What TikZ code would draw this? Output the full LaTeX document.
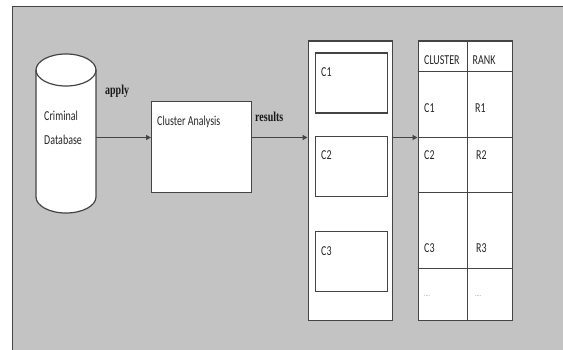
\documentclass[tikz,border=0pt]{standalone}
\usepackage{graphicx}
\usepackage{fontspec}
\setmainfont{Carlito}
\newfontfamily\labelfont{Liberation Serif}
\usetikzlibrary{arrows.meta,shapes.geometric}
\definecolor{panel}{HTML}{C3C3C3}
\definecolor{edge}{HTML}{444444}
% narrow, tall lettering
\newcommand{\tall}[1]{\scalebox{0.95}[1.3]{#1}}
\tikzset{
  box/.style={draw=edge, line width=1.2pt, fill=white},
  txt/.style={font=\fontsize{10.5}{12}\selectfont, text=black!85, inner sep=0pt, anchor=west},
  lbl/.style={font=\labelfont\bfseries\fontsize{10.5}{12}\selectfont, text=black!90, inner sep=0pt, anchor=west},
  flow/.style={draw=edge, line width=1.2pt, -{Triangle[length=5pt,width=5pt]}},
}
\begin{document}
\begin{tikzpicture}[x=1pt,y=-1pt]
\useasboundingbox (0,0) rectangle (563,350);
% page and grey panel
\fill[white] (0,0) rectangle (563,350);
\fill[panel] (12.5,6.5) rectangle (570,360);
\draw[edge, line width=1pt] (12.5,360) -- (12.5,6.5) -- (570,6.5);

% database cylinder (y axis points down, so arcs run through 90 to bulge downwards)
\path[box] (36,70) -- (36,197) arc[start angle=180, end angle=0, x radius=30, y radius=16]
  -- (96,70) arc[start angle=0, end angle=-180, x radius=30, y radius=16] -- cycle;
\draw[edge, line width=1.2pt] (36,70) arc[start angle=180, end angle=0, x radius=30, y radius=16];
\coordinate (dbout) at (96,137.5);
\node[txt] (crim) at (44,116) {\tall{Criminal}};
\node[txt] (dbname) at (44,140) {\tall{Database}};

% cluster analysis process
\node[box, minimum width=100pt, minimum height=91pt, inner sep=0pt, anchor=north west] (ca) at (151,101) {};
\node[txt] (catext) at (157,121.5) {\tall{Cluster Analysis}};

% clusters container
\node[box, minimum width=84pt, minimum height=279pt, inner sep=0pt, anchor=north west] (clusters) at (307.5,40.5) {};
\node[box, minimum width=71.5pt, minimum height=60pt, inner sep=0pt, anchor=north west] (c1) at (315,52.5) {};
\node[box, minimum width=71.5pt, minimum height=60pt, inner sep=0pt, anchor=north west] (c2) at (315,136) {};
\node[box, minimum width=71.5pt, minimum height=60pt, inner sep=0pt, anchor=north west] (c3) at (315,231) {};
\node[txt] (c1t) at (321,72) {\tall{C1}};
\node[txt] (c2t) at (321,155.5) {\tall{C2}};
\node[txt] (c3t) at (321,251) {\tall{C3}};

% ranking table
\node[box, minimum width=94.5pt, minimum height=279.5pt, inner sep=0pt, anchor=north west] (tbl) at (417.5,40.5) {};
\draw[edge, line width=1.2pt] (467.5,40.5) -- (467.5,320);
\foreach \yy in {71.5,137.5,192.5,268.5}
  \draw[edge, line width=1.2pt] (417.5,\yy) -- (512,\yy);
\node[txt] (hc) at (424,60.5) {\tall{CLUSTER}};
\node[txt] (hr) at (472.5,60.5) {\tall{RANK}};
\node[txt] (t1) at (424,108) {\tall{C1}};
\node[txt] (r1) at (475,108) {\tall{R1}};
\node[txt] (t2) at (424,155) {\tall{C2}};
\node[txt] (r2) at (476,155) {\tall{R2}};
\node[txt] (t3) at (424,248) {\tall{C3}};
\node[txt] (r3) at (476,248) {\tall{R3}};
\node[txt, font=\fontsize{6}{7}\selectfont, text=black!50] (t4) at (424,296) {....};
\node[txt, font=\fontsize{6}{7}\selectfont, text=black!50] (r4) at (475,296) {....};

% connectors
\draw[flow] (dbout) -- (ca.west |- dbout);
\draw[flow] (ca.east |- 0,137.5) -- (clusters.west |- 0,137.5);
\draw[flow] (clusters.east |- 0,137.5) -- (tbl.west |- 0,137.5);
\node[lbl] (apply) at (105,91) {\tall{apply}};
\node[lbl] (results) at (255,116.5) {\tall{results}};
\end{tikzpicture}
\end{document}
